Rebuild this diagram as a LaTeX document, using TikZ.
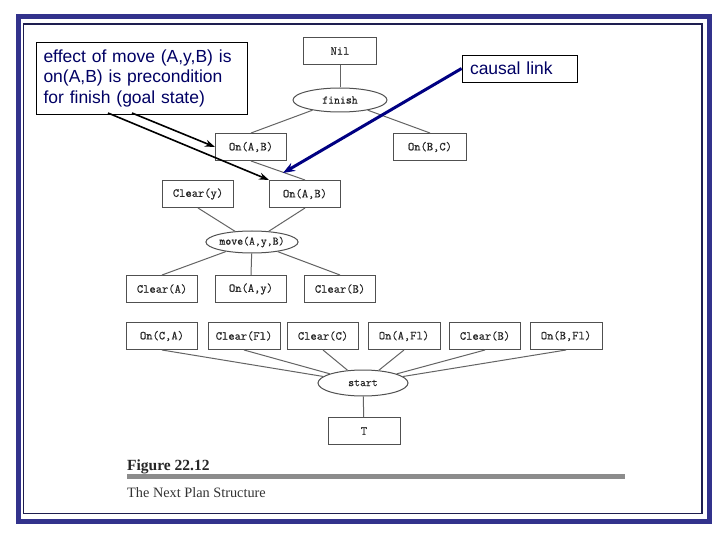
\documentclass[tikz,border=0pt]{standalone}
\usepackage{fontspec}
\setmainfont{Liberation Serif}
\setsansfont{Liberation Sans}
\newfontfamily\figmono{Latin Modern Mono}[FakeBold=0.6]
\usetikzlibrary{shapes.geometric,arrows.meta}
\definecolor{frameblue}{RGB}{50,50,140}
\definecolor{framethin}{RGB}{30,30,80}
\definecolor{navytext}{RGB}{0,0,100}
\definecolor{linkblue}{RGB}{0,0,130}
\definecolor{figgray}{RGB}{80,80,80}
\definecolor{linegray}{RGB}{100,100,100}
\definecolor{bargray}{RGB}{140,140,140}
\tikzset{
  pbox/.style={draw=figgray, line width=1pt, minimum width=71pt, minimum height=27pt, inner sep=0pt, font=\fontsize{12.2}{14}\selectfont\figmono, text=black!85},
  pell/.style={draw=figgray, line width=1pt, ellipse, inner sep=0pt, font=\fontsize{11.5}{13}\selectfont\figmono, text=black!85},
  plink/.style={draw=linegray, line width=1pt},
  note/.style={draw=black, line width=0.8pt, fill=white, font=\fontsize{17.5}{20.5}\selectfont\sffamily, text=navytext, align=left, inner ysep=0pt},
  notearrow/.style={draw=black, line width=1.6pt, -{Stealth[length=10pt,width=7pt]}},
  causalarrow/.style={draw=linkblue, line width=3pt, -{Stealth[length=12pt,width=9pt]}}
}
\begin{document}
\begin{tikzpicture}[x=1pt,y=-1pt]
\useasboundingbox (0,0) rectangle (720,540);
\fill[white] (0,0) rectangle (720,540);
% frame
\draw[frameblue, line width=5pt] (18.5,17) rectangle (709,521);
\draw[framethin, line width=1.2pt] (23.5,24) rectangle (702,513.5);

% figure nodes
\node[pbox, minimum width=73pt] (nil) at (340,51) {Nil};
\node[pell, minimum width=94pt, minimum height=24pt] (finish) at (340,100) {finish};
\node[pbox] (onab1) at (251,147) {On(A,B)};
\node[pbox, minimum width=73pt] (onbc) at (430,147) {On(B,C)};
\node[pbox] (cleary) at (198,194) {Clear(y)};
\node[pbox] (onab2) at (305,194) {On(A,B)};
\node[pell, minimum width=90pt, minimum height=22pt] (move) at (252,242) {move(A,y,B)};
\node[pbox] (cleara) at (162,289) {Clear(A)};
\node[pbox] (onay) at (251,289) {On(A,y)};
\node[pbox] (clearb1) at (340,289) {Clear(B)};
\node[pbox] (onca) at (162,336) {On(C,A)};
\node[pbox, minimum width=72pt] (clearfl) at (244,336) {Clear(Fl)};
\node[pbox] (clearc) at (323,336) {Clear(C)};
\node[pbox, minimum width=72pt] (onafl) at (404,336) {On(A,Fl)};
\node[pbox] (clearb2) at (485,336) {Clear(B)};
\node[pbox, minimum width=72pt] (onbfl) at (566,336) {On(B,Fl)};
\node[pell, minimum width=90pt, minimum height=26pt] (start) at (363,383) {start};
\node[pbox, minimum width=72pt] (top) at (364,431) {T};

% figure links
\draw[plink] (nil) -- (finish);
\draw[plink] (finish) -- (onab1.north);
\draw[plink] (finish) -- (onbc.north);
\draw[plink] (onab1.south) -- (onab2.north);
\draw[plink] (cleary.south) -- (move);
\draw[plink] (onab2.south) -- (move);
\draw[plink] (move) -- (cleara.north);
\draw[plink] (move) -- (onay.north);
\draw[plink] (move) -- (clearb1.north);
\foreach \n in {onca,clearfl,clearc,onafl,clearb2,onbfl}
  \draw[plink] (\n.south) -- (start);
\draw[plink] (start) -- (top);

% caption
\node[anchor=base west, inner sep=0pt, font=\fontsize{15.5}{18}\selectfont\bfseries, text=black!85] (figlabel) at (127,470) {Figure 22.12};
\fill[bargray] (127,473.5) rectangle (625,478.5);
\node[anchor=base west, inner sep=0pt, font=\fontsize{14.3}{16}\selectfont, text=black!80] (figcap) at (127,497) {The Next Plan Structure};

% annotations
\node[note, minimum width=211pt, minimum height=72pt, inner xsep=7.5pt, text width=196pt] (effect) at (141.5,78) {effect of move (A,y,B) is\\on(A,B) is precondition\\for finish (goal state)};
\node[note, minimum width=115pt, minimum height=27pt, inner xsep=8pt, text width=99pt] (causal) at (519.5,68.5) {causal link};
\coordinate (ea) at (108,113);
\coordinate (eb) at (132,113);
\draw[notearrow] (ea) -- (onab2.north west);
\draw[notearrow] (eb) -- (onab1.west);
\coordinate (ct) at (283,173);
\draw[causalarrow] (causal.west) -- (ct);
\end{tikzpicture}
\end{document}
